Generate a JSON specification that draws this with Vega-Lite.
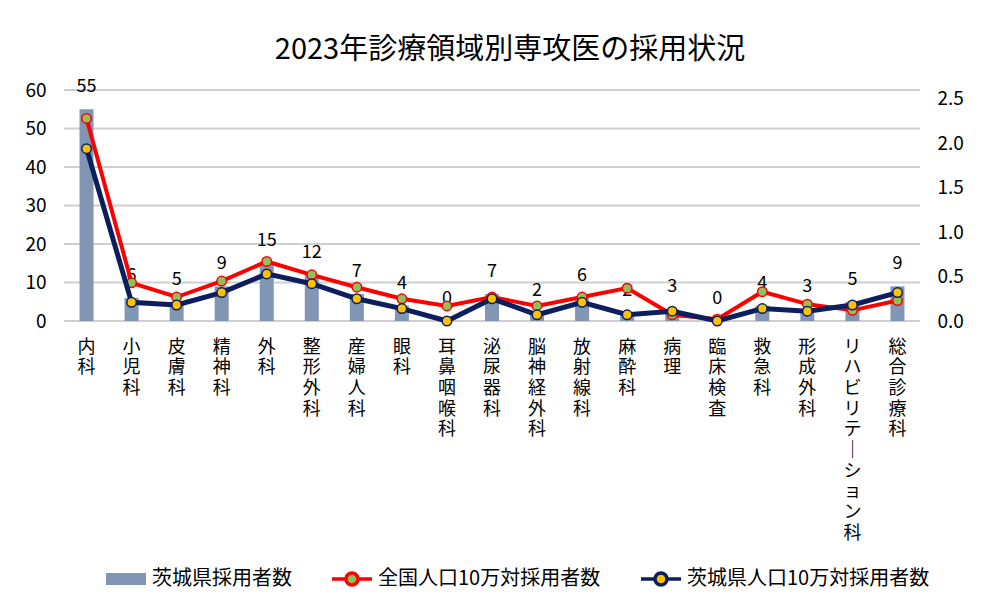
{
  "$schema": "https://vega.github.io/schema/vega-lite/v6.json",
  "width": 856,
  "height": 231,
  "padding": {"left": 24, "top": 36, "right": 10, "bottom": 10},
  "background": "#ffffff",
  "title": {
    "text": "2023年診療領域別専攻医の採用状況",
    "font": "Noto Sans CJK JP",
    "fontSize": 29,
    "fontWeight": "normal",
    "color": "#000000",
    "anchor": "middle",
    "offset": 13,
    "dx": 18
  },
  "config": {
    "font": "Noto Sans CJK JP",
    "view": {"stroke": null},
    "axis": {"labelColor": "#000000", "ticks": false, "domain": false, "title": null, "labelOverlap": false}
  },
  "datasets": {
    "gridlines": [{"g": 0}, {"g": 10}, {"g": 20}, {"g": 30}, {"g": 40}, {"g": 50}, {"g": 60}]
  },
  "data": {
    "values": [
      {"dept": "内科", "茨城県採用者数": 55, "全国人口10万対採用者数": 2.28, "茨城県人口10万対採用者数": 1.94},
      {"dept": "小児科", "茨城県採用者数": 6, "全国人口10万対採用者数": 0.43, "茨城県人口10万対採用者数": 0.21},
      {"dept": "皮膚科", "茨城県採用者数": 5, "全国人口10万対採用者数": 0.27, "茨城県人口10万対採用者数": 0.18},
      {"dept": "精神科", "茨城県採用者数": 9, "全国人口10万対採用者数": 0.45, "茨城県人口10万対採用者数": 0.32},
      {"dept": "外科", "茨城県採用者数": 15, "全国人口10万対採用者数": 0.67, "茨城県人口10万対採用者数": 0.53},
      {"dept": "整形外科", "茨城県採用者数": 12, "全国人口10万対採用者数": 0.52, "茨城県人口10万対採用者数": 0.42},
      {"dept": "産婦人科", "茨城県採用者数": 7, "全国人口10万対採用者数": 0.38, "茨城県人口10万対採用者数": 0.25},
      {"dept": "眼科", "茨城県採用者数": 4, "全国人口10万対採用者数": 0.25, "茨城県人口10万対採用者数": 0.14},
      {"dept": "耳鼻咽喉科", "茨城県採用者数": 0, "全国人口10万対採用者数": 0.17, "茨城県人口10万対採用者数": 0.0},
      {"dept": "泌尿器科", "茨城県採用者数": 7, "全国人口10万対採用者数": 0.27, "茨城県人口10万対採用者数": 0.25},
      {"dept": "脳神経外科", "茨城県採用者数": 2, "全国人口10万対採用者数": 0.17, "茨城県人口10万対採用者数": 0.07},
      {"dept": "放射線科", "茨城県採用者数": 6, "全国人口10万対採用者数": 0.27, "茨城県人口10万対採用者数": 0.21},
      {"dept": "麻酔科", "茨城県採用者数": 2, "全国人口10万対採用者数": 0.37, "茨城県人口10万対採用者数": 0.07},
      {"dept": "病理", "茨城県採用者数": 3, "全国人口10万対採用者数": 0.07, "茨城県人口10万対採用者数": 0.11},
      {"dept": "臨床検査", "茨城県採用者数": 0, "全国人口10万対採用者数": 0.02, "茨城県人口10万対採用者数": 0.0},
      {"dept": "救急科", "茨城県採用者数": 4, "全国人口10万対採用者数": 0.33, "茨城県人口10万対採用者数": 0.14},
      {"dept": "形成外科", "茨城県採用者数": 3, "全国人口10万対採用者数": 0.19, "茨城県人口10万対採用者数": 0.11},
      {"dept": "リハビリテーション科", "茨城県採用者数": 5, "全国人口10万対採用者数": 0.12, "茨城県人口10万対採用者数": 0.18},
      {"dept": "総合診療科", "茨城県採用者数": 9, "全国人口10万対採用者数": 0.23, "茨城県人口10万対採用者数": 0.32}
    ]
  },
  "layer": [
    {
      "layer": [
        {
          "data": {"name": "gridlines"},
          "mark": {"type": "rule", "color": "#cfcfcf", "strokeWidth": 2},
          "encoding": {
            "y": {
              "field": "g", "type": "quantitative",
              "scale": {"domain": [0, 60]},
              "axis": {
                "values": [0, 10, 20, 30, 40, 50, 60],
                "labelFontSize": 19,
                "labelPadding": 18,
                "labelOverlap": false,
                "grid": false
              }
            }
          }
        },
        {
          "transform": [{"fold": ["茨城県採用者数"], "as": ["series", "v"]}],
          "mark": {"type": "bar", "width": 14},
          "encoding": {
            "x": {
              "field": "dept", "type": "nominal", "sort": null,
              "scale": {"paddingInner": 0, "paddingOuter": 0},
              "axis": {
                "labelAngle": 0,
                "labelExpr": "split(replace(datum.label, 'ー', '｜'), '')",
                "labelFontSize": 18,
                "labelLineHeight": 20.7,
                "labelBaseline": "top",
                "labelPadding": 17,
                "labelLimit": 0,
                "grid": false
              }
            },
            "y": {
              "field": "v", "type": "quantitative",
              "axis": {
                "values": [0, 10, 20, 30, 40, 50, 60],
                "labelFontSize": 19,
                "labelPadding": 18,
                "labelOverlap": false,
                "grid": false
              }
            },
            "fill": {
              "field": "series", "type": "nominal",
              "scale": {
                "domain": ["茨城県採用者数", "全国人口10万対採用者数", "茨城県人口10万対採用者数"],
                "range": ["#8096b4", "#8fc05a", "#ffc000"]
              },
              "legend": {
                "orient": "none",
                "legendX": 40,
                "legendY": 467,
                "direction": "horizontal",
                "title": null,
                "labelFontSize": 20,
                "labelColor": "#000000",
                "labelLimit": 0,
                "symbolSize": 1600,
                "labelOffset": 4,
                "columnPadding": 33,
                "padding": 0,
                "encode": {
                  "symbols": {
                    "update": {
                      "shape": {"signal": "datum.value === '茨城県採用者数' ? 'M-1,-0.3H1V0.3H-1Z' : 'M-1,0H-0.3M0.3,0H1M0.3,0A0.3,0.3 0 1 1 -0.3,0A0.3,0.3 0 1 1 0.3,0Z'"},
                      "stroke": {"signal": "datum.value === '茨城県採用者数' ? 'transparent' : (datum.value === '全国人口10万対採用者数' ? '#ff0000' : '#0b1f5e')"},
                      "strokeWidth": {"value": 3.5},
                      "opacity": {"value": 1}
                    }
                  }
                }
              }
            }
          }
        },
        {
          "mark": {"type": "text", "dy": -22, "fontSize": 18, "baseline": "middle", "color": "#000000"},
          "encoding": {
            "x": {"field": "dept", "type": "nominal", "sort": null},
            "y": {
              "field": "茨城県採用者数", "type": "quantitative",
              "axis": {
                "values": [0, 10, 20, 30, 40, 50, 60],
                "labelFontSize": 19,
                "labelPadding": 18,
                "labelOverlap": false,
                "grid": false
              }
            },
            "text": {"field": "茨城県採用者数", "type": "quantitative"}
          }
        }
      ]
    },
    {
      "layer": [
        {
          "transform": [{"fold": ["全国人口10万対採用者数"], "as": ["series", "v"]}],
          "mark": {"type": "line", "strokeWidth": 4, "color": "#ff0000"},
          "encoding": {
            "x": {"field": "dept", "type": "nominal", "sort": null},
            "y": {
              "field": "v", "type": "quantitative",
              "scale": {"domain": [0, 2.5]},
              "axis": {
                "orient": "right",
                "values": [0, 0.5, 1, 1.5, 2, 2.5],
                "format": ".1f",
                "labelFontSize": 19,
                "labelPadding": 17,
                "grid": false
              }
            },
            "detail": {"field": "series", "type": "nominal"}
          }
        },
        {
          "mark": {"type": "point", "filled": true, "fill": "#8fc05a", "stroke": "#ff0000", "strokeWidth": 1.5, "size": 90, "opacity": 1},
          "encoding": {
            "x": {"field": "dept", "type": "nominal", "sort": null},
            "y": {"field": "全国人口10万対採用者数", "type": "quantitative"}
          }
        },
        {
          "transform": [{"fold": ["茨城県人口10万対採用者数"], "as": ["series", "v"]}],
          "mark": {"type": "line", "strokeWidth": 5, "color": "#0b1f5e"},
          "encoding": {
            "x": {"field": "dept", "type": "nominal", "sort": null},
            "y": {"field": "v", "type": "quantitative"},
            "detail": {"field": "series", "type": "nominal"}
          }
        },
        {
          "mark": {"type": "point", "filled": true, "fill": "#ffc000", "stroke": "#0b1f5e", "strokeWidth": 1.5, "size": 90, "opacity": 1},
          "encoding": {
            "x": {"field": "dept", "type": "nominal", "sort": null},
            "y": {"field": "茨城県人口10万対採用者数", "type": "quantitative"}
          }
        }
      ]
    }
  ],
  "resolve": {"scale": {"y": "independent"}}
}
